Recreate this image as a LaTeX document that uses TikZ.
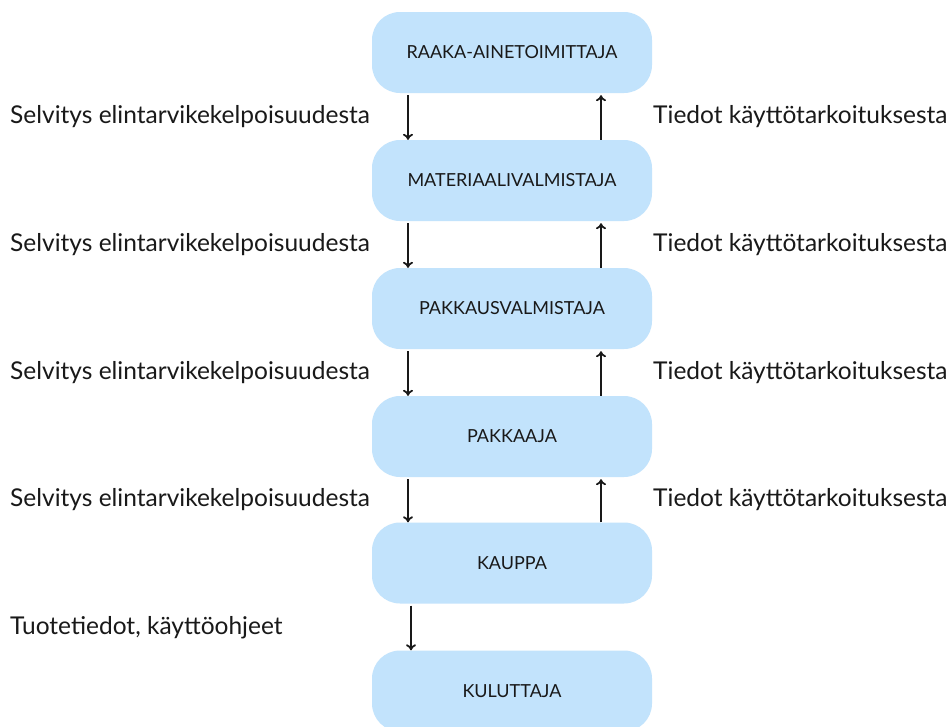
\documentclass[tikz,border=0pt]{standalone}
\usepackage{fontspec}
\setmainfont{Lato}
\usetikzlibrary{arrows.meta}
\definecolor{boxblue}{RGB}{194,227,252}
\definecolor{ink}{RGB}{25,25,25}
\begin{document}
\begin{tikzpicture}[x=1pt,y=-1pt,
  stage/.style={fill=boxblue,draw=none,rounded corners=28pt,minimum width=280pt,minimum height=81pt,inner sep=0pt,font=\fontsize{18}{21}\selectfont,text=ink},
  lbl/.style={anchor=west,inner sep=0pt,font=\fontsize{24.5}{28}\selectfont,text=ink},
  arr/.style={draw=ink,line width=2pt,-{To[length=6pt,width=10pt,line width=1.8pt]}}]
\useasboundingbox (0,0) rectangle (951,726);
\fill[white] (0,0) rectangle (951,726);
\node[stage] (b1) at (512,52.5) {RAAKA-AINETOIMITTAJA};
\node[stage] (b2) at (512,180.5) {MATERIAALIVALMISTAJA};
\node[stage] (b3) at (512,308.5) {PAKKAUSVALMISTAJA};
\node[stage] (b4) at (512,436.5) {PAKKAAJA};
\node[stage] (b5) at (512,563) {KAUPPA};
\node[stage] (b6) at (512,691) {KULUTTAJA};
\coordinate (xl) at (408,0);
\coordinate (xr) at (601,0);
\coordinate (xk) at (411,0);
\foreach \a/\b in {b1/b2,b2/b3,b3/b4,b4/b5}{
  \draw[arr] ([yshift=-2pt]\a.south -| xl) -- (\b.north -| xl);
  \draw[arr] (\b.north -| xr) -- ([yshift=-2pt]\a.south -| xr);
}
\draw[arr] ([yshift=-2pt]b5.south -| xk) -- (b6.north -| xk);
\node[lbl] (l1) at (10,117) {Selvitys elintarvikekelpoisuudesta};
\node[lbl] (l2) at (10,245) {Selvitys elintarvikekelpoisuudesta};
\node[lbl] (l3) at (10,373) {Selvitys elintarvikekelpoisuudesta};
\node[lbl] (l4) at (10,500) {Selvitys elintarvikekelpoisuudesta};
\node[lbl] (r1) at (653,117) {Tiedot käyttötarkoituksesta};
\node[lbl] (r2) at (653,245) {Tiedot käyttötarkoituksesta};
\node[lbl] (r3) at (653,373) {Tiedot käyttötarkoituksesta};
\node[lbl] (r4) at (653,500) {Tiedot käyttötarkoituksesta};
\node[lbl] (l5) at (10,628) {Tuotetiedot, käyttöohjeet};
\end{tikzpicture}
\end{document}
